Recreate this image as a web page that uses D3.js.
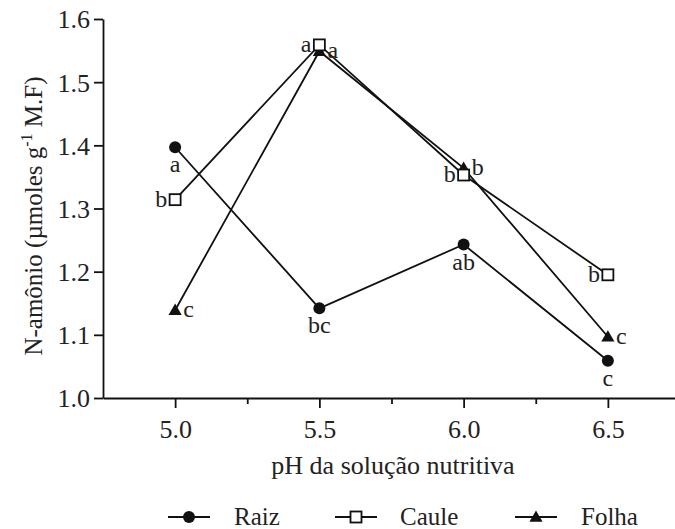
<!DOCTYPE html>
<html>
<head>
<meta charset="utf-8">
<script src="https://cdn.jsdelivr.net/npm/d3@7/dist/d3.min.js"></script>
<style>
  html, body { margin: 0; padding: 0; background: #fff; }
  svg { display: block; }
  svg text { font-family: "Liberation Serif", "Times New Roman", "DejaVu Serif", serif; fill: #222; }
</style>
</head>
<body>
<svg id="chart" width="675" height="529"></svg>
<script>
// pH levels of the nutrient solution
const phLevels = [5.0, 5.5, 6.0, 6.5];
// N-ammonium content per plant part (µmoles g-1 fresh mass)
const raiz  = [1.397, 1.142, 1.243, 1.059];
const caule = [1.314, 1.559, 1.353, 1.195];
const folha = [1.139, 1.549, 1.364, 1.097];
// Mean-comparison letters
const raizLetters  = ["a", "bc", "ab", "c"];
const cauleLetters = ["b", "a", "b", "b"];
const folhaLetters = ["c", "a", "b", "c"];
// Axis ticks
const yTicks = [1.0, 1.1, 1.2, 1.3, 1.4, 1.5, 1.6];
const xMajorTicks = [5.0, 5.5, 6.0, 6.5];
const xMinorTicks = [5.25, 5.75, 6.25];

const FONT = "Liberation Serif, Times New Roman, DejaVu Serif, serif";
const svg = d3.select("#chart");
const x = d3.scaleLinear().domain([4.75, 6.75]).range([103, 680]);
const y = d3.scaleLinear().domain([1.0, 1.6]).range([398, 19]);

const ink = "#111";

// Y axis
const yAxis = svg.append("g").attr("transform", `translate(${x(4.75)},0)`)
  .call(d3.axisLeft(y).tickValues(yTicks).tickFormat(d3.format(".1f")).tickSize(9).tickSizeOuter(0));
// X axis
const xAxis = svg.append("g").attr("transform", `translate(0,${y(1.0)})`)
  .call(d3.axisBottom(x).tickValues(xMajorTicks).tickFormat(d3.format(".1f")).tickSize(10).tickSizeOuter(0));
svg.append("g").attr("transform", `translate(0,${y(1.0)})`)
  .call(d3.axisBottom(x).tickValues(xMinorTicks).tickFormat("").tickSize(6).tickSizeOuter(0))
  .select(".domain").remove();

svg.selectAll("g").attr("font-family", FONT);
svg.selectAll(".domain").attr("stroke", ink).attr("stroke-width", 1.8);
svg.selectAll(".tick line").attr("stroke", ink).attr("stroke-width", 1.8);
yAxis.selectAll(".tick text").attr("font-size", 26).attr("x", -13).attr("dy", "0.34em");
xAxis.selectAll(".tick text").attr("font-size", 26).attr("dy", "1.05em");

// Axis titles
svg.append("text")
  .attr("x", 393).attr("y", 474)
  .attr("text-anchor", "middle").attr("font-size", 26)
  .text("pH da solução nutritiva");

const yTitle = svg.append("text")
  .attr("transform", "translate(42,216) rotate(-90)")
  .attr("text-anchor", "middle").attr("font-size", 25);
yTitle.append("tspan").text("N-amônio (µmoles g");
yTitle.append("tspan").attr("font-size", 16).attr("dy", -10).text("-1");
yTitle.append("tspan").attr("dy", 10).text(" M.F)");

// Series definitions
const series = [
  { name: "Raiz",  values: raiz,  letters: raizLetters,  symbol: "circle",   labelPos: "below" },
  { name: "Caule", values: caule, letters: cauleLetters, symbol: "square",   labelPos: "left" },
  { name: "Folha", values: folha, letters: folhaLetters, symbol: "triangle", labelPos: "right" }
];

const line = d3.line().x(d => x(d.ph)).y(d => y(d.v));

function drawSymbol(g, type, cx, cy) {
  if (type === "circle") {
    g.append("circle").attr("cx", cx).attr("cy", cy).attr("r", 6).attr("fill", ink);
  } else if (type === "square") {
    g.append("rect").attr("x", cx - 5.5).attr("y", cy - 5.5).attr("width", 11).attr("height", 11)
      .attr("fill", "#fff").attr("stroke", ink).attr("stroke-width", 1.8);
  } else {
    g.append("path")
      .attr("d", d3.symbol().type(d3.symbolTriangle).size(75)())
      .attr("transform", `translate(${cx},${cy + 1})`)
      .attr("fill", ink);
  }
}

// Lines first, then markers on top
series.forEach(s => {
  const pts = phLevels.map((ph, i) => ({ ph, v: s.values[i] }));
  svg.append("path").datum(pts).attr("d", line)
    .attr("fill", "none").attr("stroke", ink).attr("stroke-width", 1.8);
});
// Open squares drawn last so they stay visible over nearby marks
[series[0], series[2], series[1]].forEach(s => {
  const g = svg.append("g");
  phLevels.forEach((ph, i) => drawSymbol(g, s.symbol, x(ph), y(s.values[i])));
});

// Mean-comparison letters
series.forEach(s => {
  phLevels.forEach((ph, i) => {
    const cx = x(ph), cy = y(s.values[i]);
    const t = svg.append("text").attr("font-size", 24).text(s.letters[i]);
    if (s.labelPos === "below") {
      t.attr("x", cx).attr("y", cy + 25).attr("text-anchor", "middle");
    } else if (s.labelPos === "left") {
      t.attr("x", cx - 8).attr("y", cy + 7).attr("text-anchor", "end");
    } else {
      t.attr("x", cx + 8).attr("y", cy + 7).attr("text-anchor", "start");
    }
  });
});

// Legend
const legendY = 517;
const legendItems = [
  { s: series[0], x0: 168, tx: 234 },
  { s: series[1], x0: 335, tx: 400 },
  { s: series[2], x0: 515, tx: 581 }
];
legendItems.forEach(li => {
  const g = svg.append("g");
  g.append("line").attr("x1", li.x0).attr("x2", li.x0 + 42)
    .attr("y1", legendY).attr("y2", legendY).attr("stroke", ink).attr("stroke-width", 1.8);
  drawSymbol(g, li.s.symbol, li.x0 + 21, legendY);
  g.append("text").attr("x", li.tx).attr("y", legendY + 8)
    .attr("font-size", 25).text(li.s.name);
});
</script>
</body>
</html>
